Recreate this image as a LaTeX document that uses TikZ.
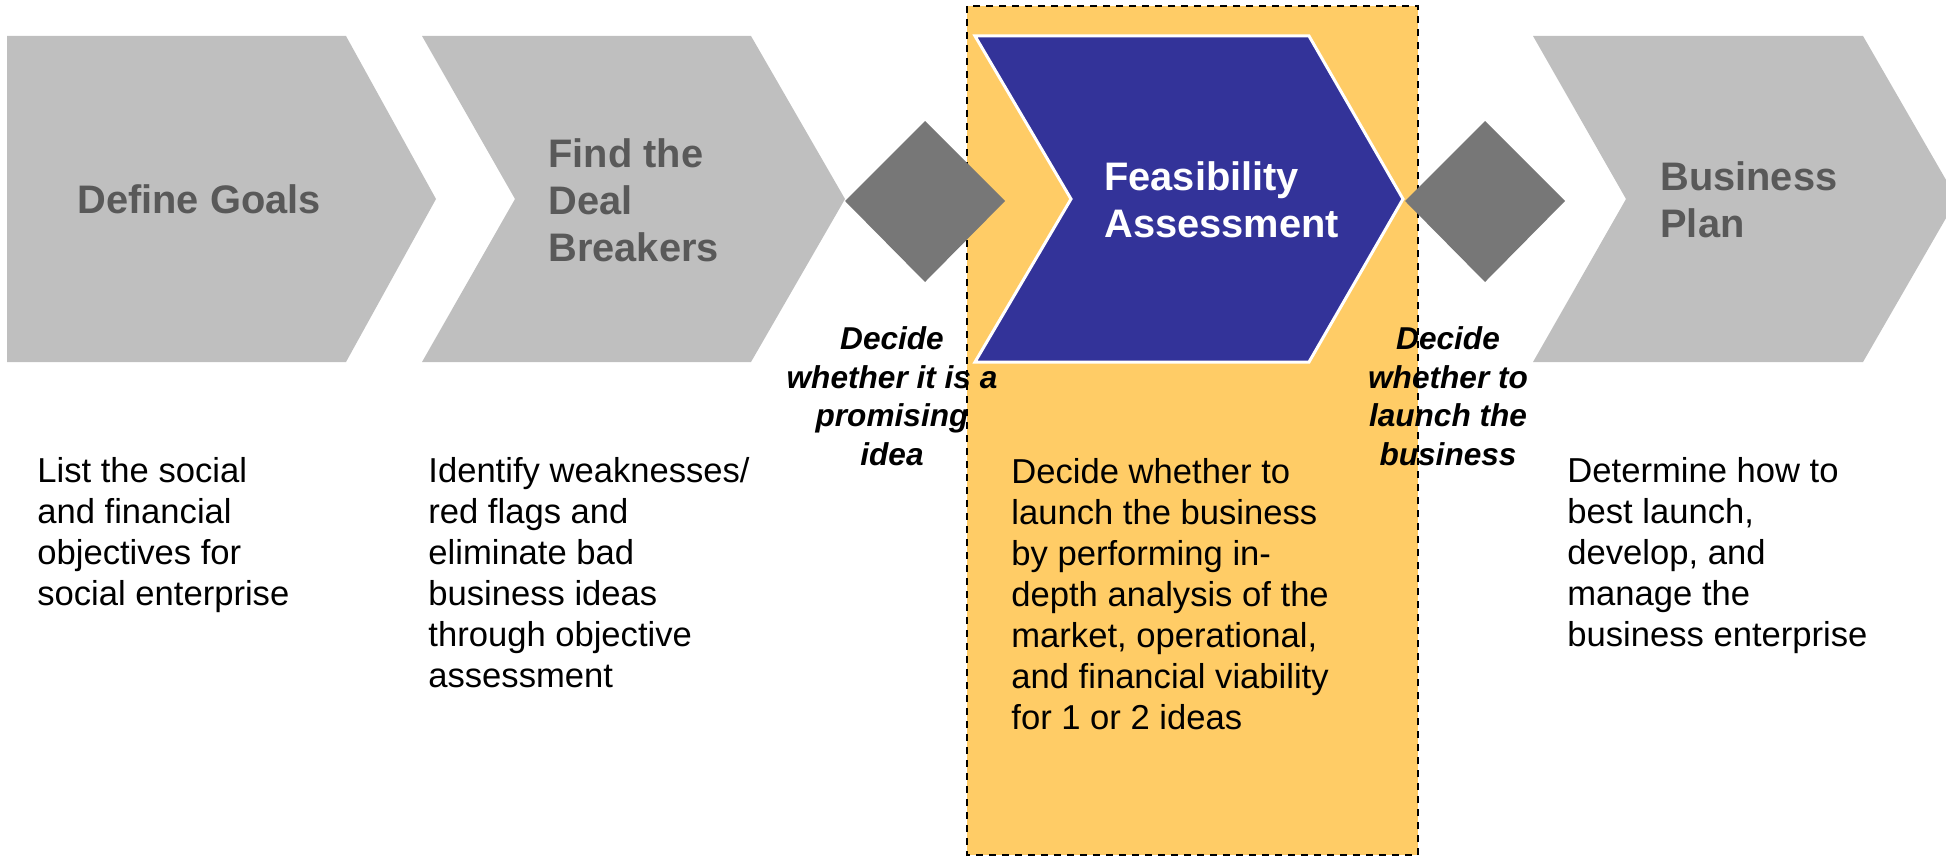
\documentclass[tikz,border=0pt]{standalone}
\usepackage{fontspec}
\setmainfont{Liberation Sans}
\definecolor{chevgray}{HTML}{BFBFBF}
\definecolor{titlegray}{HTML}{595959}
\definecolor{diagray}{HTML}{777777}
\definecolor{boxorange}{HTML}{FFCC66}
\definecolor{stepblue}{HTML}{333399}
\tikzset{
  chev/.style={fill=chevgray, draw=none},
  activechev/.style={fill=stepblue, draw=white, line width=1.5pt, line join=miter},
  dia/.style={fill=diagray, draw=none},
  focusbox/.style={fill=boxorange, draw=black, dashed, dash pattern=on 3.5pt off 3pt, line width=1.3pt},
  ttl/.style={font=\fontsize{19.9}{23.5}\selectfont\bfseries, text=titlegray, align=left, inner sep=0pt, anchor=base west},
  desc/.style={font=\fontsize{17.3}{20.5}\selectfont, text=black, align=left, inner sep=0pt, anchor=base west},
  lab/.style={font=\fontsize{15.8}{19.25}\selectfont\bfseries\itshape, text=black, align=center, inner sep=0pt, anchor=base},
}
\begin{document}
\begin{tikzpicture}[x=0.5pt, y=-0.5pt]
\useasboundingbox (0,0) rectangle (1946,856);
\clip (0,0) rectangle (1946,856);
% focus box
\draw[focusbox] (967,6) rectangle (1418,855);
% chevrons
\path[chev] (7,36) -- (346,36) -- (436,199) -- (346,362) -- (7,362) -- cycle;
\path[chev] (422,36) -- (751,36) -- (845,199) -- (751,362) -- (422,362) -- (515,199) -- cycle;
\path[activechev] (975,36) -- (1309,36) -- (1403,199) -- (1309,362) -- (975,362) -- (1071,199) -- cycle;
\path[chev] (1533,36) -- (1863,36) -- (1957,199) -- (1863,362) -- (1533,362) -- (1626,199) -- cycle;
% diamonds
\path[dia] (845,201) -- (925,121) -- (1005,201) -- (925,282) -- cycle;
\path[dia] (1405,201) -- (1485,121) -- (1565,201) -- (1485,282) -- cycle;
% titles (anchor = baseline of last line)
\node[ttl] (t1) at (77,213) {Define Goals};
\node[ttl] (t2) at (548,261) {Find the\\Deal\\Breakers};
\node[ttl, text=white] (t3) at (1104,237) {Feasibility\\Assessment};
\node[ttl] (t4) at (1660,237) {Business\\Plan};
% decision labels
\node[lab] (l1) at (892,465) {Decide\\whether it is a\\promising\\idea};
\node[lab] (l2) at (1448,465) {Decide\\whether to\\launch the\\business};
% descriptions
\node[desc] (d1) at (37,605) {List the social\\and financial\\objectives for\\social enterprise};
\node[desc] (d2) at (428,687) {Identify weaknesses/\\red flags and\\eliminate bad\\business ideas\\through objective\\assessment};
\node[desc] (d3) at (1011,729) {Decide whether to\\launch the business\\by performing in-\\depth analysis of the\\market, operational,\\and financial viability\\for 1 or 2 ideas};
\node[desc] (d4) at (1567,646) {Determine how to\\best launch,\\develop, and\\manage the\\business enterprise};
\end{tikzpicture}
\end{document}
